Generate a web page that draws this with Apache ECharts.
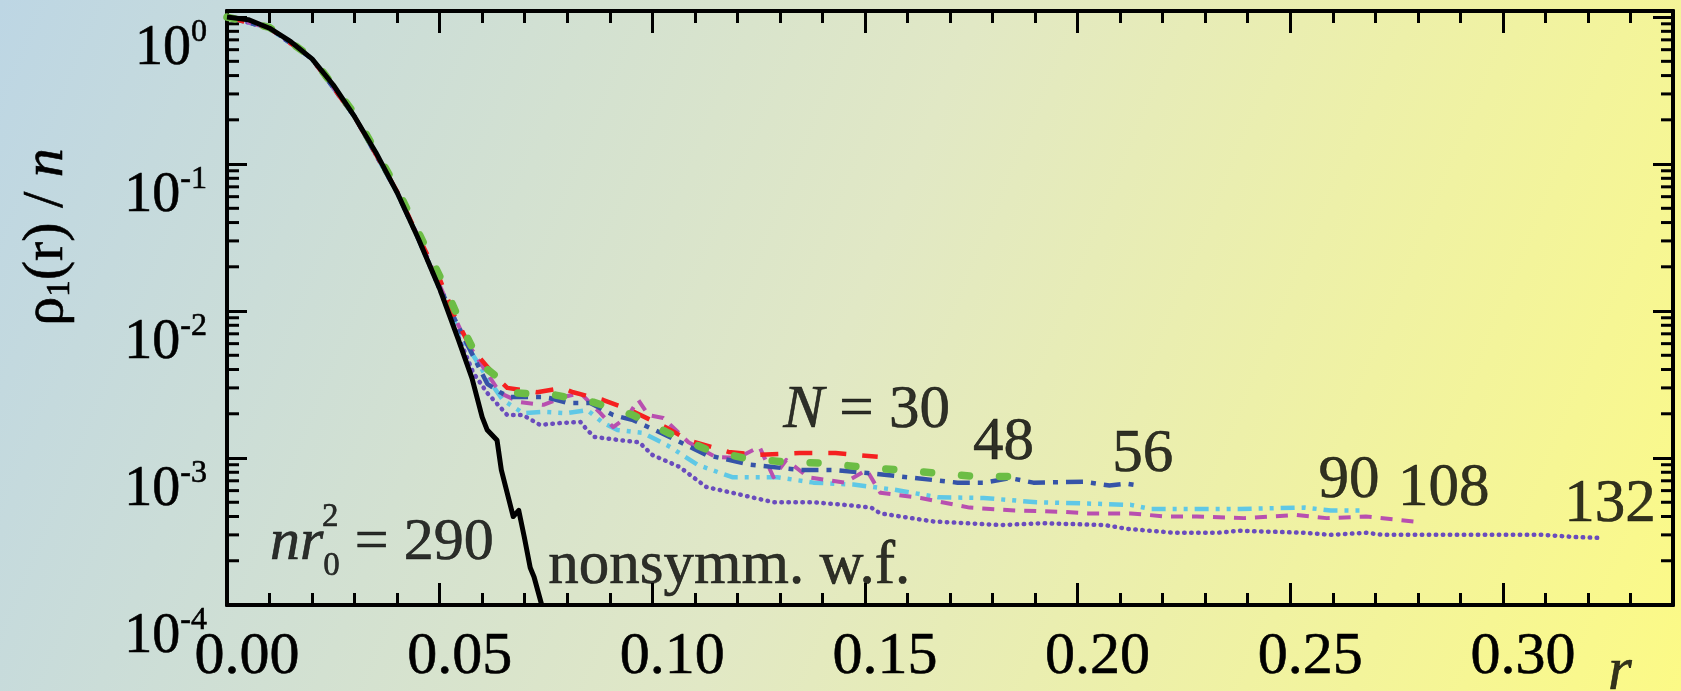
<!DOCTYPE html>
<html>
<head>
<meta charset="utf-8">
<script src="https://cdn.jsdelivr.net/npm/echarts@6/dist/echarts.min.js"></script>
<style>
html,body{margin:0;padding:0;}
#chart{width:1681px;height:691px;}
</style>
</head>
<body>
<div id="chart"></div>
<script>
// ---- data: [r, rho1(r)/n] ----
const nonsymm = [[0,1.0],[0.005,0.96],[0.010,0.84],[0.015,0.68],[0.020,0.52],[0.025,0.345],[0.030,0.21],[0.035,0.12],[0.040,0.064],[0.045,0.031],[0.050,0.0142],[0.0544,0.0064],[0.0576,0.0035],[0.060,0.0019],[0.0612,0.00155],[0.0635,0.00132],[0.0645,0.00083],[0.0673,0.00040],[0.0686,0.00044],[0.0699,0.00029],[0.0713,0.000179],[0.0722,0.000155],[0.0740,0.0001]];

const n30 = [[0,1.0],[0.01,0.84],[0.02,0.52],[0.03,0.21],[0.04,0.065],[0.045,0.032],[0.0501,0.0163],[0.0536,0.0091],[0.0572,0.0057],[0.0635,0.0035],[0.0659,0.0030],[0.0729,0.0028],[0.0788,0.0030],[0.0814,0.0028],[0.0885,0.00248],[0.0948,0.00212],[0.1035,0.0016],[0.1085,0.00132],[0.1179,0.0011],[0.1252,0.00105],[0.1346,0.00108],[0.1431,0.00108],[0.153,0.00102]];

const n48 = [[0,1.0],[0.01,0.85],[0.02,0.53],[0.03,0.22],[0.04,0.068],[0.0473,0.025],[0.0513,0.0145],[0.0553,0.0078],[0.0595,0.0044],[0.0682,0.00277],[0.0772,0.00268],[0.0861,0.0024],[0.0955,0.00196],[0.1038,0.00148],[0.1132,0.00113],[0.1216,0.0010],[0.1311,0.00094],[0.14,0.000925],[0.1489,0.00087],[0.1579,0.00083],[0.1668,0.00079],[0.1758,0.00075],[0.1849,0.00075]];

const n56 = [[0,1.0],[0.01,0.84],[0.02,0.52],[0.03,0.21],[0.04,0.064],[0.045,0.031],[0.050,0.0145],[0.055,0.0072],[0.0612,0.0032],[0.0642,0.0028],[0.0666,0.0026],[0.0744,0.0026],[0.0758,0.00256],[0.08,0.00237],[0.0854,0.00237],[0.0908,0.00196],[0.0955,0.00181],[0.1021,0.00148],[0.1127,0.00105],[0.1231,0.0009],[0.1348,0.00083],[0.1426,0.00083],[0.1506,0.00079],[0.16,0.00074],[0.1718,0.00068],[0.1779,0.00068],[0.1842,0.00073],[0.1896,0.00068],[0.2014,0.00069],[0.2075,0.00065],[0.2115,0.00067],[0.2144,0.00065]];

const n90 = [[0,1.0],[0.01,0.84],[0.02,0.52],[0.03,0.21],[0.04,0.064],[0.045,0.031],[0.050,0.0142],[0.055,0.0068],[0.0612,0.0035],[0.0649,0.00248],[0.0696,0.00202],[0.0744,0.00206],[0.08,0.00202],[0.0847,0.00212],[0.0885,0.00173],[0.0918,0.00155],[0.0979,0.00148],[0.1042,0.00119],[0.1106,0.0009],[0.1188,0.00074],[0.1294,0.00074],[0.1379,0.00068],[0.1473,0.00066],[0.1567,0.00061],[0.1673,0.00054],[0.1779,0.000535],[0.1904,0.0005],[0.2024,0.00049],[0.2125,0.00048],[0.2172,0.00045],[0.228,0.00045],[0.2381,0.00045],[0.2534,0.00046],[0.2595,0.00044],[0.2678,0.00044]];

const n108 = [[0,1.0],[0.01,0.84],[0.02,0.52],[0.03,0.21],[0.04,0.065],[0.045,0.032],[0.0508,0.0133],[0.056,0.0064],[0.0642,0.00277],[0.0689,0.0024],[0.0744,0.0023],[0.0791,0.0026],[0.0831,0.00277],[0.0878,0.00202],[0.0908,0.00162],[0.0941,0.0019],[0.0967,0.00248],[0.0991,0.00196],[0.1026,0.00187],[0.1085,0.00128],[0.1148,0.00102],[0.12,0.0010],[0.1252,0.00119],[0.1285,0.00074],[0.1315,0.00097],[0.1367,0.00074],[0.1452,0.00068],[0.1504,0.00083],[0.1536,0.00058],[0.1631,0.000535],[0.1746,0.00046],[0.1852,0.00044],[0.1967,0.00043],[0.2024,0.00042],[0.2125,0.00042],[0.2207,0.0004],[0.228,0.0004],[0.2391,0.00039],[0.2515,0.00041],[0.2586,0.00039],[0.2678,0.0004],[0.2791,0.00037]];

const n132 = [[0,1.0],[0.01,0.84],[0.02,0.52],[0.03,0.21],[0.04,0.064],[0.045,0.031],[0.050,0.014],[0.0545,0.0066],[0.0579,0.0038],[0.0612,0.00277],[0.0659,0.00196],[0.0696,0.00196],[0.0736,0.00168],[0.0784,0.00173],[0.0831,0.00176],[0.0847,0.00155],[0.0864,0.00139],[0.0927,0.00132],[0.0969,0.00128],[0.1,0.00105],[0.1064,0.00087],[0.1127,0.000635],[0.1188,0.00058],[0.1285,0.0005],[0.1379,0.0005],[0.1452,0.00048],[0.1515,0.00046],[0.1536,0.00042],[0.1661,0.00037],[0.1819,0.00035],[0.192,0.00036],[0.2064,0.00035],[0.2115,0.00033],[0.2228,0.00031],[0.2329,0.00031],[0.2381,0.00032],[0.2534,0.00031],[0.2595,0.0003],[0.2678,0.00031],[0.272,0.0003],[0.2944,0.0003],[0.3096,0.0003],[0.3169,0.00029],[0.3226,0.000286]];

// axis ranges and tick values
const xRange = [0, 0.34];
const yRange = [1e-4, 1.1];
const yMinorTicks = [2e-4,3e-4,4e-4,5e-4,6e-4,7e-4,8e-4,9e-4,
                     2e-3,3e-3,4e-3,5e-3,6e-3,7e-3,8e-3,9e-3,
                     2e-2,3e-2,4e-2,5e-2,6e-2,7e-2,8e-2,9e-2,
                     0.2,0.3,0.4,0.5,0.6,0.7,0.8,0.9];

// text labels anchored in data coordinates
const labelN30 = [0.1504, 0.00209];
const label48 = [0.1826, 0.00126];
const label56 = [0.2153, 0.00105];
const label90 = [0.2638, 0.000698];
const label108 = [0.2861, 0.000615];
const label132 = [0.3252, 0.000479];
const labelNonsymm = [0.1181, 0.000181];
const labelNr0 = [0.0101, 0.000264];
const labelNr0Sup = [0.0243, 0.000397];
const labelR = [0.3275, 0.0000345];

const FONT = 'Liberation Serif';
const INK = {color: '#000', textBorderColor: '#000', textBorderWidth: 0.6};
const chart = echarts.init(document.getElementById('chart'));

function xAxisDef(pos, interval, tickLen, showLabel) {
  return {
    type: 'value', position: pos, min: xRange[0], max: xRange[1], interval: interval,
    axisLine: {show: true, onZero: false, lineStyle: {color: '#000', width: 4}},
    axisTick: {show: true, inside: true, length: tickLen, lineStyle: {color: '#000', width: 3}},
    splitLine: {show: false},
    axisLabel: showLabel ? Object.assign({
      show: true, showMaxLabel: false, margin: 22, fontSize: 60, lineHeight: 60,
      fontFamily: FONT, padding: [0, 0, 0, 40],
      formatter: v => v.toFixed(2)
    }, INK) : {show: false}
  };
}

function yAxisDef(pos, showLabel) {
  return {
    type: 'log', logBase: 10, position: pos, min: yRange[0], max: yRange[1],
    axisLine: {show: true, onZero: false, lineStyle: {color: '#000', width: 4}},
    axisTick: {show: true, inside: true, length: 20, lineStyle: {color: '#000', width: 3}},
    splitLine: {show: false},
    minorTick: {show: false},
    axisLabel: showLabel ? {
      show: true, showMaxLabel: false, margin: 20, align: 'right', verticalAlign: 'top',
      formatter: v => {
        const e = Math.log10(v); const k = Math.round(e);
        if (Math.abs(e - k) > 1e-6) return '';
        return '{b|10}{s|' + k + '}';
      },
      rich: {
        b: Object.assign({fontSize: 56, lineHeight: 64, fontFamily: FONT}, INK),
        s: Object.assign({fontSize: 32, lineHeight: 14, verticalAlign: 'top', fontFamily: FONT}, INK)
      }
    } : {show: false},
    name: showLabel ? '{g|ρ}{sub|1}{g|(r) / }{i|n}' : '',
    nameLocation: 'middle', nameRotate: 90, nameGap: 150,
    nameTextStyle: {
      padding: [0, 0, 0, 142],
      rich: {
        g: Object.assign({fontSize: 58, lineHeight: 60, fontFamily: FONT}, INK),
        i: Object.assign({fontSize: 58, lineHeight: 60, fontFamily: FONT, fontStyle: 'italic'}, INK),
        sub: Object.assign({fontSize: 33, lineHeight: 20, verticalAlign: 'bottom', fontFamily: FONT}, INK)
      }
    }
  };
}

function lineSeries(name, data, color, width, dash, cap) {
  return {
    name: name, type: 'line', data: data, xAxisIndex: 0, yAxisIndex: 0,
    showSymbol: false, symbol: 'none', smooth: false, clip: true, silent: true,
    lineStyle: {color: color, width: width, type: dash, cap: cap || 'butt', join: 'round'}
  };
}

function textPoint(pos, text, rich, align) {
  return {
    type: 'scatter', xAxisIndex: 0, yAxisIndex: 0, symbolSize: 0, silent: true, clip: false,
    data: [pos],
    label: Object.assign({show: true, position: 'inside', formatter: text, align: align || 'center',
            verticalAlign: 'middle', rich: rich}, INK)
  };
}

const richMain = {
  t: Object.assign({fontSize: 61, lineHeight: 62, fontFamily: FONT}, INK),
  i: Object.assign({fontSize: 61, lineHeight: 62, fontFamily: FONT, fontStyle: 'italic'}, INK)
};
const richNr = {
  t: Object.assign({fontSize: 60, lineHeight: 80, fontFamily: FONT}, INK),
  i: Object.assign({fontSize: 60, lineHeight: 80, fontFamily: FONT, fontStyle: 'italic'}, INK),
  sub: Object.assign({fontSize: 33, lineHeight: 20, verticalAlign: 'bottom', fontFamily: FONT}, INK)
};
const richSup = {s: Object.assign({fontSize: 33, lineHeight: 34, fontFamily: FONT}, INK)};

const option = {
  animation: false,
  backgroundColor: new echarts.graphic.LinearGradient(0, 0, 1, 1, [
    {offset: 0, color: '#bdd6e4'},
    {offset: 0.5, color: '#e1e8c5'},
    {offset: 1, color: '#fcfa86'}
  ]),
  grid: {left: 227, right: 8, top: 11, bottom: 86, containLabel: false},
  xAxis: [
    xAxisDef('bottom', 0.05, 22, true),
    xAxisDef('bottom', 0.01, 12, false),
    xAxisDef('top', 0.05, 22, false),
    xAxisDef('top', 0.01, 12, false)
  ],
  yAxis: [yAxisDef('left', true), yAxisDef('right', false)],
  series: [
    lineSeries('N=132', n132, '#6a4cbd', 4.5, [0.5, 6.5], 'round'),
    lineSeries('N=90', n90, '#5fc8e6', 4.5, [14, 7, 4, 7, 4, 7]),
    lineSeries('N=108', n108, '#b84fb0', 4, [12, 9]),
    lineSeries('N=56', n56, '#3553a8', 4.5, [17, 8, 5, 8]),
    lineSeries('N=30', n30, '#f52020', 4.5, [18, 16]),
    lineSeries('N=48', n48, '#6cbd45', 7.5, [8, 30], 'round'),
    lineSeries('nonsymm', nonsymm, '#000000', 5, 'solid'),
    {
      type: 'custom', xAxisIndex: 0, yAxisIndex: 0, silent: true, clip: false,
      data: yMinorTicks.map(v => [xRange[0], v]),
      renderItem: function (params, api) {
        const v = api.value(1);
        const pL = api.coord([xRange[0], v]);
        const pR = api.coord([xRange[1], v]);
        return {type: 'group', children: [
          {type: 'line', shape: {x1: pL[0], y1: pL[1], x2: pL[0] + 12, y2: pL[1]}, style: {stroke: '#000', lineWidth: 3}},
          {type: 'line', shape: {x1: pR[0] - 12, y1: pR[1], x2: pR[0], y2: pR[1]}, style: {stroke: '#000', lineWidth: 3}}
        ]};
      }
    },
    textPoint(labelN30, '{i|N}{t| = 30}', richMain),
    textPoint(label48, '{t|48}', richMain),
    textPoint(label56, '{t|56}', richMain),
    textPoint(label90, '{t|90}', richMain),
    textPoint(label108, '{t|108}', richMain),
    textPoint(label132, '{t|132}', richMain),
    textPoint(labelNonsymm, '{t|nonsymm. w.f.}', richMain),
    textPoint(labelNr0, '{i|nr}{sub|0}{t| = 290}', richNr, 'left'),
    textPoint(labelNr0Sup, '{s|2}', richSup),
    textPoint(labelR, '{i|r}', richMain)
  ]
};
chart.setOption(option);
</script>
</body>
</html>
